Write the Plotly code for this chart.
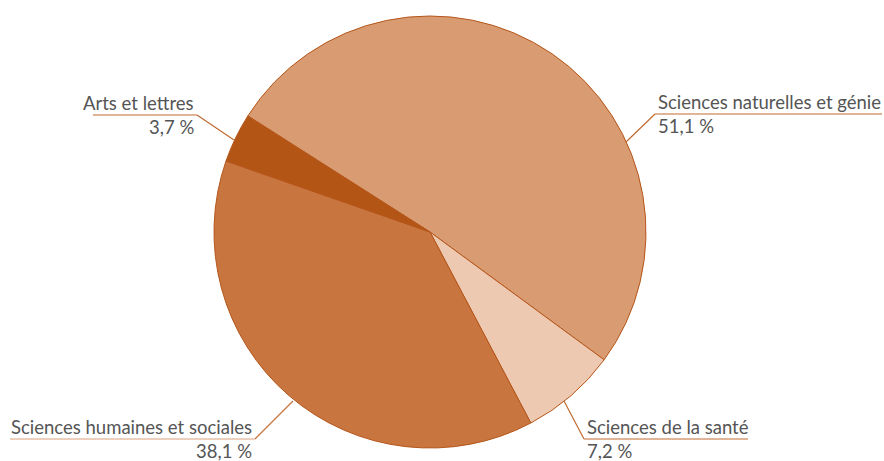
import plotly.graph_objects as go

# ---- data ----
categories = ["Sciences naturelles et génie", "Sciences de la santé",
              "Sciences humaines et sociales", "Arts et lettres"]
values = [51.1, 7.2, 38.1, 3.7]
value_labels = ["51,1 %", "7,2 %", "38,1 %", "3,7 %"]
colors = ["#D99B71", "#EEC9B1", "#C87540", "#B35515"]

W, H = 884, 461
CX, CY, R = 430, 232, 216

def px(x):
    return x / W

def py(y):
    return 1 - y / H

fig = go.Figure(go.Pie(
    labels=categories, values=values, sort=False, direction="clockwise",
    rotation=-57.5, textinfo="none", hoverinfo="label+percent",
    marker=dict(colors=colors, line=dict(color="#B5561A", width=1)),
    domain=dict(x=[px(CX - R), px(CX + R)], y=[py(CY + R), py(CY - R)]),
    showlegend=False,
))

# leader lines: (start on pie, elbow, end of underline), label side, diag colour, underline colour
leaders = [
    ((626, 142), (655, 114), (882, 114), "left", "#C06A30", "#C06A30"),
    ((564, 401), (584, 439), (748, 439), "left", "#C06A30", "#C06A30"),
    ((293, 401), (255, 439), (10, 439), "right", "#C87540", "#D9A07A"),
    ((234, 140), (197, 115), (93, 115), "right", "#C06A30", "#C06A30"),
]

shapes = []
annotations = []
font = dict(family="Lato", size=18.5, color="#555555")
for (p0, p1, p2, side, c1, c2), name, val in zip(leaders, categories, value_labels):
    shapes.append(dict(
        type="line", xref="paper", yref="paper",
        x0=px(p0[0]), y0=py(p0[1]), x1=px(p1[0]), y1=py(p1[1]),
        line=dict(color=c1, width=1.2),
    ))
    shapes.append(dict(
        type="line", xref="paper", yref="paper",
        x0=px(p1[0]), y0=py(p1[1]), x1=px(p2[0]), y1=py(p2[1]),
        line=dict(color=c2, width=1.2),
    ))
    xa = p1[0] + (1 if side == "left" else -1)
    annotations.append(dict(
        x=px(xa), y=py(p1[1] - 12), xref="paper", yref="paper",
        text=name, showarrow=False, xanchor=side, yanchor="middle", font=font,
    ))
    annotations.append(dict(
        x=px(xa), y=py(p1[1] + 12), xref="paper", yref="paper",
        text=val, showarrow=False, xanchor=side, yanchor="middle", font=font,
    ))

fig.update_layout(
    width=W, height=H, margin=dict(l=0, r=0, t=0, b=0),
    paper_bgcolor="white", plot_bgcolor="white",
    shapes=shapes, annotations=annotations,
)

fig.write_html("out.html", config={"displayModeBar": False},
               post_script="document.body.style.margin='0';")
